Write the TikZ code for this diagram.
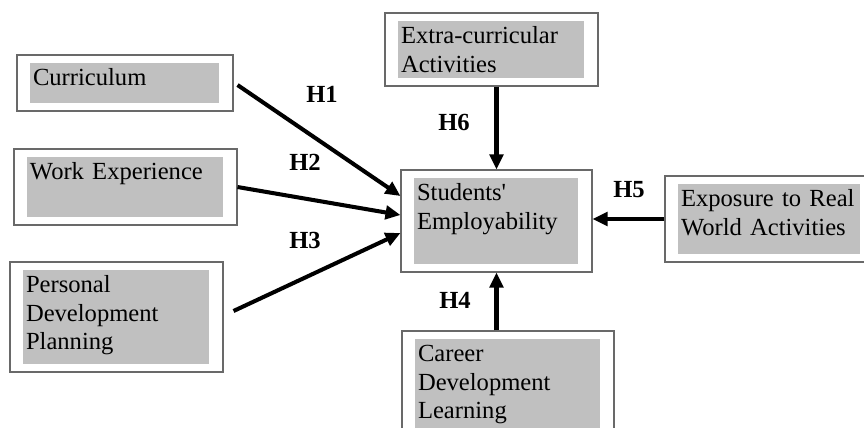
\documentclass[tikz,border=0pt]{standalone}
\usepackage{fontspec}
\setmainfont{Liberation Serif}
\usepackage{tikz}
\usetikzlibrary{arrows.meta, fit}

\definecolor{shade}{RGB}{192,192,192}
\definecolor{frame}{RGB}{105,105,105}

\tikzset{
    factor/.style={draw=frame, line width=0.6pt, fill=white, inner sep=0pt},
    panel/.style={fill=shade, inner sep=0pt},
    caption/.style={anchor=base west, inner sep=0pt, text width=5cm, align=left,
        font=\fontsize{14}{16.3}\selectfont},
    link/.style={line width=2.3pt, -{Triangle[length=0.3cm, width=0.27cm]}},
    hlabel/.style={inner sep=0pt, font=\fontsize{14}{16}\selectfont\bfseries}
}

\begin{document}
\begin{tikzpicture}[x=0.02cm, y=-0.02cm]
% Fix the size of the picture and cut off what lies outside it, since the
% box at the bottom and the box at the right run over the edge.
\useasboundingbox (0,0) rectangle (864,427);
\clip (0,0) rectangle (864,427);

% Draw every factor as a white framed box with a grey panel inside it,
% and write its name in the top left corner of the panel.
\foreach \name/\xa/\ya/\xb/\yb/\text in {
    cur/17/55/233/111/Curriculum,
    wrk/14/149/237/225/{Work Experience},
    pdp/10/262/223/372/{Personal\\Development\\Planning},
    ext/385/13/598/86/{Extra-curricular\\Activities},
    stu/401/170/592/272/{Students\textquotesingle\\Employability},
    exp/665/176/874/262/{Exposure to Real\\World Activities},
    car/402/331/614/450/{Career\\Development\\Learning}} {
    \node[factor, fit={(\xa,\ya) (\xb,\yb)}] (\name) {};
    \node[panel, fit={(\xa+13,\ya+8) (\xb-14,\yb-8)}] (\name-p) {};
    \node[caption] at ([shift={(3,23)}]\name-p.north west) {\text};
}

% Connect the factors to the students' employability in the centre.
\draw[link] ([shift={(4,2)}]cur.east) -- ([shift={(0,-25)}]stu.west);
\draw[link] (wrk.east) -- ([shift={(0,-6)}]stu.west);
\draw[link] ([shift={(10,-6)}]pdp.east) -- ([shift={(0,12)}]stu.west);
\draw[link] (ext.south -| stu.north) -- (stu.north);
\draw[link] (car.north -| stu.south) -- (stu.south);
\draw[link] (exp.west) -- (exp.west -| stu.east);

% Name the hypotheses next to their arrows.
\foreach \name/\x/\y/\text in {h1/322/94/H1, h2/305/162/H2, h3/305/240/H3,
                               h4/455/300/H4, h5/629/190/H5, h6/454/122/H6}
    \node[hlabel] (\name) at (\x,\y) {\text};
\end{tikzpicture}
\end{document}
